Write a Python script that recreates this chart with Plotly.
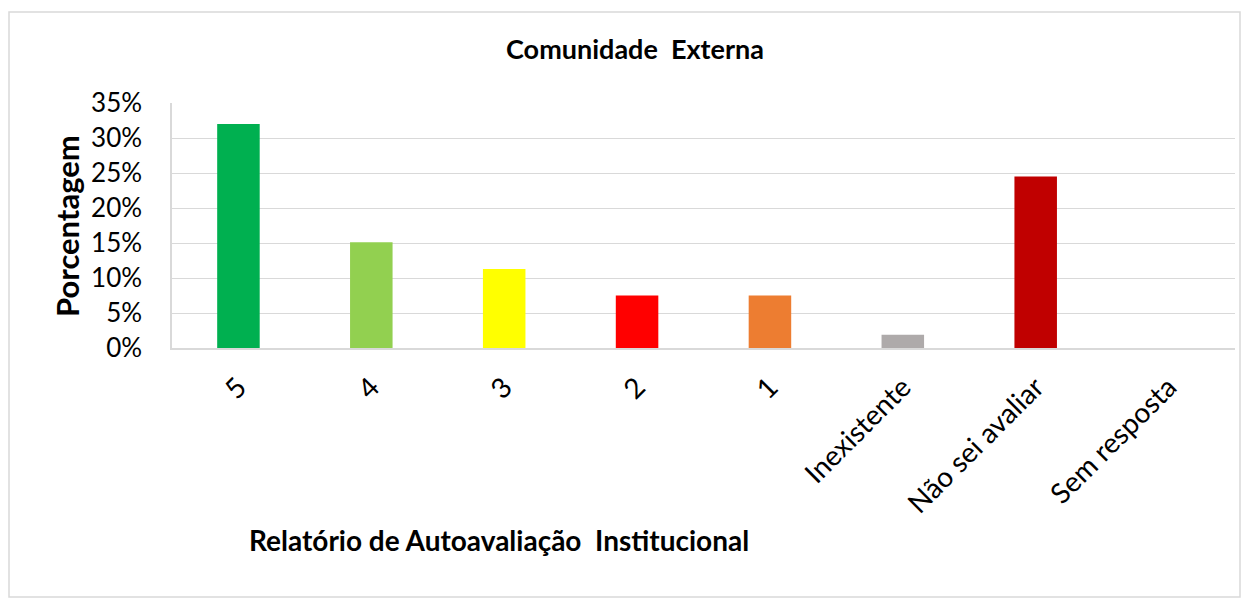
import plotly.graph_objects as go

categories = ["5", "4", "3", "2", "1", "Inexistente", "Não sei avaliar", "Sem resposta"]
values = [0.32, 0.151, 0.113, 0.075, 0.075, 0.019, 0.245, 0.0]
colors = ["#00B050", "#92D050", "#FFFF00", "#FF0000", "#ED7D31", "#AEAAAA", "#C00000", "#7F7F7F"]
y_ticks = [0, 0.05, 0.10, 0.15, 0.20, 0.25, 0.30, 0.35]

FONT = "Lato, Open Sans, sans-serif"

fig = go.Figure(go.Bar(x=categories, y=values, marker=dict(color=colors, line=dict(width=0)), width=0.32))

OFF = 8  # page body margin
W, H = 1251 - OFF, 599 - OFF
L, R, T, B = 172 - OFF, 1235 - OFF, 103 - OFF, 348 - OFF
pw, ph = R - L, B - T

def px(x):
    return (x - OFF - L) / pw

def py(y):
    return (B - (y - OFF)) / ph

fig.update_layout(
    width=W, height=H,
    margin=dict(l=L, r=W - R, t=T, b=H - B),
    paper_bgcolor="white", plot_bgcolor="white",
    font=dict(family=FONT, color="black"),
    showlegend=False,
    title=dict(text="<b>Comunidade  Externa</b>", x=px(635), xref="paper", xanchor="center",
               y=1 - (50 - OFF) / H, yref="container", yanchor="middle",
               font=dict(size=27, family=FONT, color="black")),
)
fig.update_xaxes(showgrid=False, showline=True, linecolor="#D9D9D9", linewidth=1.5,
                 ticks="", tickangle=-45, tickfont=dict(size=28, family=FONT), ticklabelstandoff=10)
fig.update_yaxes(range=[0, 0.35], tickvals=y_ticks, tickformat=".0%", showgrid=True,
                 gridcolor="#D9D9D9", gridwidth=1, showline=True, linecolor="#D9D9D9", linewidth=1.5,
                 zeroline=False, ticks="", tickfont=dict(size=26, family=FONT), ticklabelstandoff=23)

fig.add_annotation(text="<b>Porcentagem</b>", x=px(67), y=py(226), xref="paper", yref="paper",
                   xanchor="center", yanchor="middle",
                   textangle=-90, showarrow=False, font=dict(size=31, family=FONT))
fig.add_annotation(text="<b>Relatório de Autoavaliação  Institucional</b>", x=px(499), y=py(540),
                   xref="paper", yref="paper", xanchor="center", yanchor="middle",
                   showarrow=False, font=dict(size=28, family=FONT))

fig.add_shape(type="rect", xref="paper", yref="paper", x0=px(9), x1=px(1240), y0=py(597), y1=py(12),
              line=dict(color="#D9D9D9", width=1.5), fillcolor="rgba(0,0,0,0)", layer="below")

fig.write_html("out.html")
